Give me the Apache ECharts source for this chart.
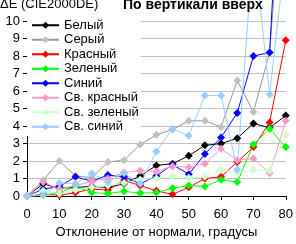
<!DOCTYPE html>
<html lang="ru">
<head>
    <meta charset="UTF-8">
    <title>По вертикали вверх</title>
    <script src="https://cdn.jsdelivr.net/npm/echarts@6/dist/echarts.min.js"></script>
    <style>
        body { margin: 0; background: #fff; }
        #chart { width: 296px; height: 244px; }
    </style>
</head>
<body>
    <div id="chart"></div>

    <script>
        // angle from normal, degrees
        const angles = [0, 5, 10, 15, 20, 25, 30, 35, 40, 45, 50, 55, 60, 65, 70, 75, 80];

        // dE values (values above 10 leave the plot)
        const white      = [0, 0.7, 0.45, 0.5, 0.55, 0.5, 0.7, 1.15, 1.75, 1.85, 2.3, 2.9, 3.0, 3.3, 4.15, 3.9, 4.6];
        const gray       = [0, 0.9, 2.0, 1.15, 1.05, 1.95, 2.05, 2.95, 3.5, 3.8, 4.3, 4.3, 3.95, 6.6, 4.8, 8.2, 20];
        const red        = [0, 0.1, 0.05, 0.2, 0.4, 0.35, 0.9, 0.6, 0.3, 0.1, 0.5, 1.0, 1.1, 1.95, 2.8, 4.2, 8.9];
        const green      = [0, 0.05, 0.2, 0.55, 0.2, 0.15, 0.27, 0.17, 0.2, 0.45, 0.6, 0.55, 0.93, 0.8, 2.95, 3.85, 2.8];
        const blue       = [0, 0.4, 0.55, 1.1, 0.85, 1.2, 1.1, 0.7, 1.15, 1.8, 1.25, 2.4, 3.35, 4.75, 8.0, 8.2, 25];
        const lightRed   = [0, 0.8, 0.4, 0.6, 0.85, 1.0, 1.35, 1.45, 1.4, 1.7, 1.65, 1.85, 2.7, 2.05, 2.15, 1.3, 4.3];
        const lightGreen = [0, 0.3, 0.15, 0.35, 0.5, 0.6, 0.75, 0.95, 1.0, 1.15, 1.05, 1.1, 1.5, 1.35, 1.5, 1.45, 3.5];
        const lightBlue  = [0, 0.05, 0.75, 0.7, 1.3, 0.8, 1.3, 0.7, 2.55, 3.85, 3.45, 5.75, 5.75, 1.5, 14.5, 5.8, 14];

        const names = ['Белый', 'Серый', 'Красный', 'Зеленый', 'Синий', 'Св. красный', 'Св. зеленый', 'Св. синий'];
        const values = [white, gray, red, green, blue, lightRed, lightGreen, lightBlue];
        const lineColors = ['#000000', '#969696', '#ff0000', '#00ff00', '#0000ff', '#ff99cc', '#ccffcc', '#99ccff'];
        const markColors = ['#000000', '#c0c0c0', '#ff0000', '#00ff00', '#0000ff', '#ff99cc', '#ccffcc', '#99ccff'];

        const font = 'Liberation Sans, Arial, sans-serif';

        const chart = echarts.init(document.getElementById('chart'));

        const series = names.map((name, i) => ({
            name: name,
            type: 'line',
            data: angles.map((a, j) => [a, values[i][j]]),
            symbol: 'diamond',
            symbolSize: 8,
            clip: false,
            lineStyle: { color: lineColors[i], width: 1 },
            itemStyle: { color: markColors[i] }
        }));

        const option = {
            animation: false,
            title: [
                {
                    text: 'ΔE (CIE2000DE)',
                    left: 0, top: -2, padding: 0,
                    textStyle: { fontFamily: font, fontSize: 13, fontWeight: 'normal', color: '#000' }
                },
                {
                    text: 'По вертикали вверх',
                    left: 123, top: -2, padding: 0,
                    textStyle: { fontFamily: font, fontSize: 14, fontWeight: 'bold', color: '#000' }
                }
            ],
            legend: {
                data: names,
                orient: 'vertical',
                left: 27,
                top: 16,
                padding: [2, 2, 2, 4],
                itemGap: 0,
                itemWidth: 27,
                itemHeight: 9,
                backgroundColor: '#fff',
                textStyle: { fontFamily: font, fontSize: 13, color: '#000', lineHeight: 14.5 }
            },
            grid: { left: 27, right: 7, top: 21, bottom: 41 },
            xAxis: {
                type: 'value',
                min: 0, max: 80, interval: 10,
                name: 'Отклонение от нормали, градусы',
                nameLocation: 'middle',
                nameGap: 28,
                nameTextStyle: { fontFamily: font, fontSize: 13, color: '#000' },
                axisLine: { lineStyle: { color: '#000', width: 1 } },
                axisTick: { show: true, length: 4, lineStyle: { color: '#000' } },
                axisLabel: { fontFamily: font, fontSize: 13, color: '#000', margin: 12 },
                splitLine: { show: false }
            },
            yAxis: {
                type: 'value',
                min: 0, max: 10, interval: 1,
                axisLine: { show: true, lineStyle: { color: '#000', width: 1 } },
                axisTick: { show: true, length: 4, lineStyle: { color: '#000' } },
                axisLabel: { fontFamily: font, fontSize: 13, color: '#000', margin: 7 },
                splitLine: { lineStyle: { color: '#c0c0c0', width: 1 } }
            },
            series: series
        };

        chart.setOption(option);
    </script>
</body>
</html>
